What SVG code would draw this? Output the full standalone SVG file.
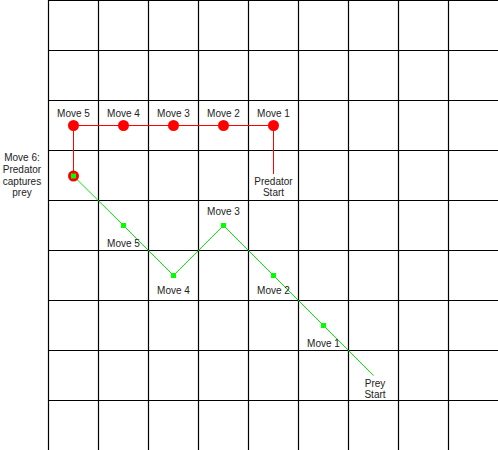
<svg xmlns="http://www.w3.org/2000/svg" width="498" height="450" viewBox="0 0 498 450">
<style>
.grid line{stroke:#000;stroke-width:1.2}
text{font-family:"Liberation Sans",Arial,sans-serif;font-size:10px;fill:#222;text-anchor:middle}
.red{stroke:#ff0000;stroke-width:1;fill:none}
.green{stroke:#00ee00;stroke-width:1;fill:none}
.rdot{fill:#ff0000}
.gsq{fill:#00ff00}
</style>
<rect width="498" height="450" fill="#fff"/>
<g class="grid" id="grid">
<line x1="48.5" y1="0" x2="48.5" y2="450"/>
<line x1="98.5" y1="0" x2="98.5" y2="450"/>
<line x1="148.5" y1="0" x2="148.5" y2="450"/>
<line x1="198.5" y1="0" x2="198.5" y2="450"/>
<line x1="248.5" y1="0" x2="248.5" y2="450"/>
<line x1="298.5" y1="0" x2="298.5" y2="450"/>
<line x1="348.5" y1="0" x2="348.5" y2="450"/>
<line x1="398.5" y1="0" x2="398.5" y2="450"/>
<line x1="448.5" y1="0" x2="448.5" y2="450"/>
<line x1="48" y1="0.5" x2="498" y2="0.5"/>
<line x1="48" y1="50.5" x2="498" y2="50.5"/>
<line x1="48" y1="100.5" x2="498" y2="100.5"/>
<line x1="48" y1="150.5" x2="498" y2="150.5"/>
<line x1="48" y1="200.5" x2="498" y2="200.5"/>
<line x1="48" y1="250.5" x2="498" y2="250.5"/>
<line x1="48" y1="300.5" x2="498" y2="300.5"/>
<line x1="48" y1="350.5" x2="498" y2="350.5"/>
<line x1="48" y1="400.5" x2="498" y2="400.5"/>
</g>
<g id="connectors">
<polyline class="red" points="273.5,174 273.5,125.5 73.5,125.5 73.5,176"/>
<polyline class="green" points="73.5,176 123.5,225.5 173.5,275.5 223.5,225.5 273.5,275.5 323.5,325.5 373.5,375.5"/>
</g>
<g id="predator">
<circle class="rdot" cx="273.5" cy="125.5" r="5.5"/>
<circle class="rdot" cx="223.5" cy="125.5" r="5.5"/>
<circle class="rdot" cx="173.5" cy="125.5" r="5.5"/>
<circle class="rdot" cx="123.5" cy="125.5" r="5.5"/>
<circle class="rdot" cx="73.5" cy="125.5" r="5.5"/>
<circle class="rdot" cx="73.5" cy="176" r="5.5"/>
<text x="273.5" y="117">Move 1</text>
<text x="223.5" y="117">Move 2</text>
<text x="173.5" y="117">Move 3</text>
<text x="123.5" y="117">Move 4</text>
<text x="73.5" y="117">Move 5</text>
<text x="273.5" y="185">Predator</text>
<text x="273.5" y="196">Start</text>
</g>
<g id="prey">
<rect class="gsq" x="71" y="173.5" width="5" height="5"/>
<rect class="gsq" x="121" y="223" width="5" height="5"/>
<rect class="gsq" x="171" y="273" width="5" height="5"/>
<rect class="gsq" x="221" y="223" width="5" height="5"/>
<rect class="gsq" x="271" y="273" width="5" height="5"/>
<rect class="gsq" x="321" y="323" width="5" height="5"/>
<text x="123.5" y="247">Move 5</text>
<text x="173.5" y="294">Move 4</text>
<text x="223.5" y="214.5">Move 3</text>
<text x="273.5" y="294">Move 2</text>
<text x="323.5" y="346.5">Move 1</text>
<text x="375" y="386.5">Prey</text>
<text x="375" y="398">Start</text>
</g>
<g id="capture">
<text x="22" y="160.5">Move 6:</text>
<text x="22" y="172.5">Predator</text>
<text x="22" y="184.5">captures</text>
<text x="22" y="196">prey</text>
</g>
</svg>
